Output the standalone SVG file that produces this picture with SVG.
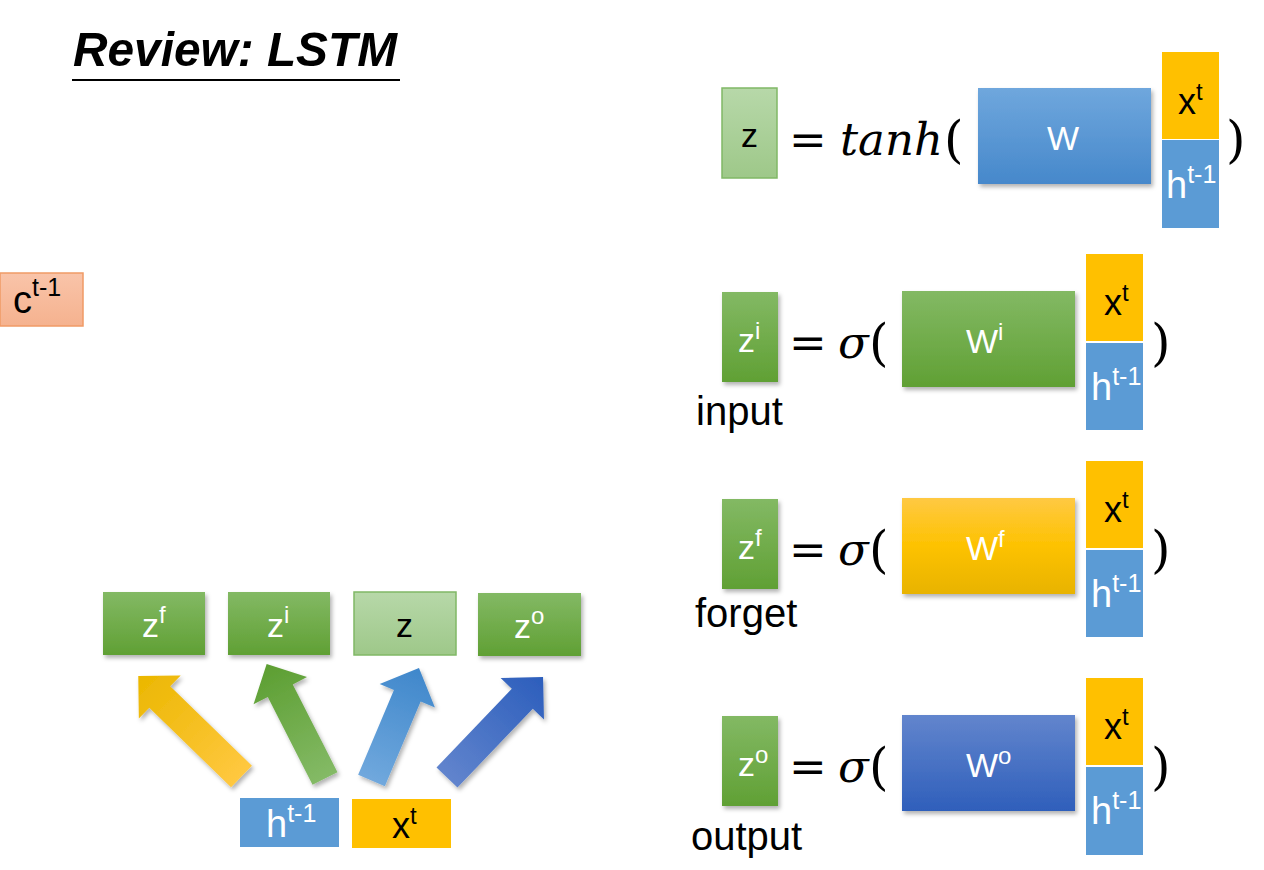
<svg xmlns="http://www.w3.org/2000/svg" width="1264" height="870" viewBox="0 0 1264 870">
<defs>
  <linearGradient id="gGreen" x1="0" y1="0" x2="0" y2="1"><stop offset="0" stop-color="#83b964"/><stop offset="1" stop-color="#60a034"/></linearGradient>
  <linearGradient id="gLight" x1="0" y1="0" x2="0" y2="1"><stop offset="0" stop-color="#b7d8a9"/><stop offset="1" stop-color="#9ec889"/></linearGradient>
  <linearGradient id="gBlue" x1="0" y1="0" x2="0" y2="1"><stop offset="0" stop-color="#6fa7dd"/><stop offset="1" stop-color="#4688cb"/></linearGradient>
  <linearGradient id="gYel" x1="0" y1="0" x2="0" y2="1"><stop offset="0" stop-color="#ffc943"/><stop offset="0.5" stop-color="#fdc200"/><stop offset="1" stop-color="#e8b300"/></linearGradient>
  <linearGradient id="gDark" x1="0" y1="0" x2="0" y2="1"><stop offset="0" stop-color="#6285cd"/><stop offset="1" stop-color="#2f5fbb"/></linearGradient>
  <linearGradient id="gSalmon" x1="0" y1="0" x2="0" y2="1"><stop offset="0" stop-color="#f9c4a9"/><stop offset="1" stop-color="#f5b28f"/></linearGradient>
  <linearGradient id="aYel" x1="0" y1="0" x2="1" y2="0"><stop offset="0" stop-color="#ffc840"/><stop offset="1" stop-color="#ebb700"/></linearGradient>
  <linearGradient id="aGreen" x1="0" y1="0" x2="1" y2="0"><stop offset="0" stop-color="#84ba66"/><stop offset="1" stop-color="#5c9e31"/></linearGradient>
  <linearGradient id="aBlue" x1="0" y1="0" x2="1" y2="0"><stop offset="0" stop-color="#70a8dd"/><stop offset="1" stop-color="#3f87cb"/></linearGradient>
  <linearGradient id="aDark" x1="0" y1="0" x2="1" y2="0"><stop offset="0" stop-color="#6184cd"/><stop offset="1" stop-color="#2c5ebc"/></linearGradient>
  <filter id="sh" x="-20%" y="-20%" width="150%" height="150%">
    <feDropShadow dx="2" dy="3" stdDeviation="2" flood-color="#000" flood-opacity="0.3"/>
  </filter>
</defs>
<style>
  text { font-family: "Liberation Sans", Arial, sans-serif; }
  .lbl { font-size: 34px; fill: #fff; }
  .dk { fill: #000; }
  .big { font-size: 36px; }
  .hh { font-size: 38px; }
  .sup { font-size: 24px; }
  .sup2 { font-size: 25px; }
  .math { font-family: "DejaVu Serif", serif; font-size: 45px; fill: #000; }
  .paren { font-family: "DejaVu Serif", serif; font-size: 50px; fill: #000; }
  .it { font-style: italic; }
  .word { font-size: 40px; fill: #000; }
  .xb { fill: #ffc000; }
  .hb { fill: #5b9bd5; }
</style>
<rect width="1264" height="870" fill="#fff"/>

<g id="title">
  <text x="73" y="66" font-size="49" font-weight="bold" font-style="italic" fill="#000" textLength="324" lengthAdjust="spacingAndGlyphs">Review: LSTM</text>
  <line x1="72" y1="80" x2="400" y2="80" stroke="#000" stroke-width="2"/>
</g>

<g id="c_prev">
  <rect x="0" y="273" width="83" height="53" fill="url(#gSalmon)" stroke="#f09a66" stroke-width="1.5"/>
  <text x="13" y="313" class="lbl dk hh">c<tspan class="sup2" dy="-17">t-1</tspan></text>
</g>

<!-- top equation -->
<g id="eq_z">
  <rect x="722" y="88" width="55" height="90" fill="url(#gLight)" stroke="#80b866" stroke-width="1.5"/>
  <text x="741" y="147" class="lbl dk">z</text>
  <text x="789" y="155" class="math">=</text>
  <text x="840" y="155" class="math it">tanh</text>
  <text x="944" y="157" class="paren">(</text>
  <rect x="978" y="88" width="173" height="96" fill="url(#gBlue)" filter="url(#sh)"/>
  <text x="1047" y="150" class="lbl">W</text>
  <rect x="1162" y="52" width="57" height="87" class="xb"/>
  <rect x="1162" y="140" width="57" height="88" class="hb"/>
  <text x="1178" y="114" class="lbl dk big">x<tspan class="sup" dy="-14">t</tspan></text>
  <text x="1166" y="198" class="lbl hh">h<tspan class="sup2" dy="-15">t-1</tspan></text>
  <text x="1226" y="157" class="paren">)</text>
</g>

<g id="eq_input">
  <rect x="722" y="292" width="56" height="90" fill="url(#gGreen)" filter="url(#sh)"/>
  <text x="738" y="352" class="lbl">z<tspan class="sup" dy="-13">i</tspan></text>
  <text x="789" y="358" class="math">=</text>
  <text x="838" y="358" class="math it">σ</text>
  <text x="869" y="360" class="paren">(</text>
  <rect x="902" y="291" width="173" height="96" fill="url(#gGreen)" filter="url(#sh)"/>
  <text x="966" y="353" class="lbl">W<tspan class="sup" dy="-13">i</tspan></text>
  <rect x="1086" y="254" width="57" height="87" class="xb"/>
  <rect x="1086" y="343" width="57" height="87" class="hb"/>
  <text x="1104" y="315" class="lbl dk big">x<tspan class="sup" dy="-14">t</tspan></text>
  <text x="1091" y="400" class="lbl hh">h<tspan class="sup2" dy="-15">t-1</tspan></text>
  <text x="1151" y="360" class="paren">)</text>
  <text x="696" y="425" class="word">input</text>
</g>

<g id="eq_forget">
  <rect x="722" y="499" width="56" height="90" fill="url(#gGreen)" filter="url(#sh)"/>
  <text x="738" y="559" class="lbl">z<tspan class="sup" dy="-13">f</tspan></text>
  <text x="789" y="565" class="math">=</text>
  <text x="838" y="565" class="math it">σ</text>
  <text x="869" y="567" class="paren">(</text>
  <rect x="902" y="498" width="173" height="96" fill="url(#gYel)" filter="url(#sh)"/>
  <text x="966" y="560" class="lbl">W<tspan class="sup" dy="-13">f</tspan></text>
  <rect x="1086" y="461" width="57" height="87" class="xb"/>
  <rect x="1086" y="550" width="57" height="87" class="hb"/>
  <text x="1104" y="522" class="lbl dk big">x<tspan class="sup" dy="-14">t</tspan></text>
  <text x="1091" y="607" class="lbl hh">h<tspan class="sup2" dy="-15">t-1</tspan></text>
  <text x="1151" y="567" class="paren">)</text>
  <text x="695" y="627" class="word">forget</text>
</g>

<g id="eq_output">
  <rect x="722" y="716" width="56" height="90" fill="url(#gGreen)" filter="url(#sh)"/>
  <text x="738" y="776" class="lbl">z<tspan class="sup" dy="-13">o</tspan></text>
  <text x="789" y="782" class="math">=</text>
  <text x="838" y="782" class="math it">σ</text>
  <text x="869" y="784" class="paren">(</text>
  <rect x="902" y="715" width="173" height="96" fill="url(#gDark)" filter="url(#sh)"/>
  <text x="966" y="777" class="lbl">W<tspan class="sup" dy="-13">o</tspan></text>
  <rect x="1086" y="678" width="57" height="87" class="xb"/>
  <rect x="1086" y="767" width="57" height="88" class="hb"/>
  <text x="1104" y="739" class="lbl dk big">x<tspan class="sup" dy="-14">t</tspan></text>
  <text x="1091" y="824" class="lbl hh">h<tspan class="sup2" dy="-15">t-1</tspan></text>
  <text x="1151" y="784" class="paren">)</text>
  <text x="691" y="850" class="word">output</text>
</g>

<!-- bottom gate diagram -->
<g id="node_zf">
  <rect x="103" y="592" width="102" height="63" fill="url(#gGreen)" filter="url(#sh)"/>
  <text x="142" y="637" class="lbl">z<tspan class="sup" dy="-14">f</tspan></text>
</g>
<g id="node_zi">
  <rect x="228" y="592" width="102" height="63" fill="url(#gGreen)" filter="url(#sh)"/>
  <text x="267" y="637" class="lbl">z<tspan class="sup" dy="-14">i</tspan></text>
</g>
<g id="node_z">
  <rect x="354" y="592" width="102" height="63" fill="url(#gLight)" stroke="#80b866" stroke-width="1.5"/>
  <text x="396" y="637" class="lbl dk">z</text>
</g>
<g id="node_zo">
  <rect x="478" y="593" width="103" height="63" fill="url(#gGreen)" filter="url(#sh)"/>
  <text x="514" y="638" class="lbl">z<tspan class="sup" dy="-14">o</tspan></text>
</g>
<g id="node_h">
  <rect x="240" y="798" width="99" height="49" class="hb"/>
  <text x="266" y="837" class="lbl hh">h<tspan class="sup2" dy="-15">t-1</tspan></text>
</g>
<g id="node_x">
  <rect x="352" y="799" width="99" height="49" class="xb"/>
  <text x="392" y="838" class="lbl dk big">x<tspan class="sup" dy="-14">t</tspan></text>
</g>

<g id="connectors" filter="url(#sh)">
  <path transform="translate(241.5,776.5) rotate(-135.8)" d="M0,-15 L114,-15 L114,-30 L144,0 L114,30 L114,15 L0,15 Z" fill="url(#aYel)"/>
  <path transform="translate(325,778.5) rotate(-117)" d="M0,-14 L98.5,-14 L98.5,-30 L128.5,0 L98.5,30 L98.5,14 L0,14 Z" fill="url(#aGreen)"/>
  <path transform="translate(371.5,780.5) rotate(-67.1)" d="M0,-14.5 L92,-14.5 L92,-30 L122,0 L92,30 L92,14.5 L0,14.5 Z" fill="url(#aBlue)"/>
  <path transform="translate(447,777.5) rotate(-46.3)" d="M0,-14.5 L109,-14.5 L109,-30 L139,0 L109,30 L109,14.5 L0,14.5 Z" fill="url(#aDark)"/>
</g>
</svg>
